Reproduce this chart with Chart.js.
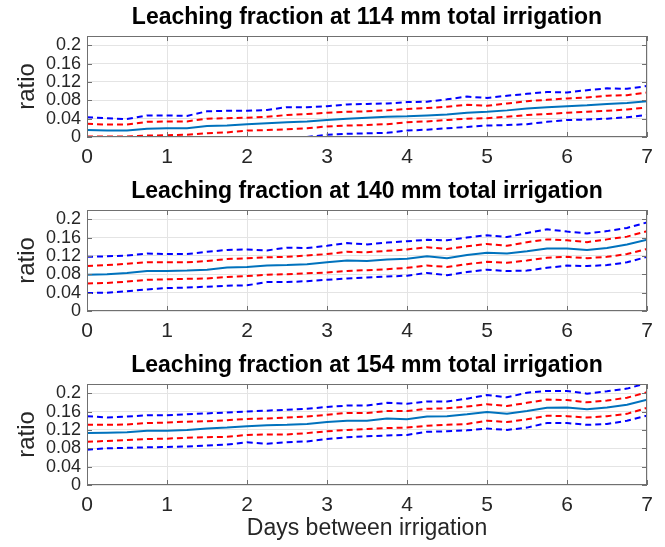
<!DOCTYPE html>
<html>
<head>
<meta charset="utf-8">
<script src="https://cdn.jsdelivr.net/npm/chart.js@4/dist/chart.umd.min.js"></script>
<style>
    html, body { margin: 0; padding: 0; background: #fff; }
    #wrap { position: relative; width: 665px; height: 547px; }
    canvas { position: absolute; left: 0; }
</style>
</head>
<body>
<div id="wrap">
    <canvas id="chart114" width="665" height="174" style="top:0px"></canvas>
    <canvas id="chart140" width="665" height="174" style="top:174px"></canvas>
    <canvas id="chart154" width="665" height="199" style="top:348px"></canvas>
</div>
<script>
// x values (days between irrigation) and tick labels
const days = [0, 0.25, 0.5, 0.75, 1, 1.25, 1.5, 1.75, 2, 2.25, 2.5, 2.75, 3, 3.25, 3.5, 3.75, 4, 4.25, 4.5, 4.75, 5, 5.25, 5.5, 5.75, 6, 6.25, 6.5, 6.75, 7];
const xTicks = [0, 1, 2, 3, 4, 5, 6, 7];
const yTicks = [0, 0.04, 0.08, 0.12, 0.16, 0.2];
const yTickLabels = ["0", "0.04", "0.08", "0.12", "0.16", "0.2"];

// 114 mm total irrigation
const mean114 = [0.015, 0.014, 0.014, 0.018, 0.019, 0.019, 0.024, 0.025, 0.028, 0.030, 0.032, 0.034, 0.037, 0.040, 0.042, 0.044, 0.045, 0.047, 0.049, 0.053, 0.055, 0.058, 0.062, 0.065, 0.067, 0.069, 0.072, 0.074, 0.078];
const innerHi114 = [0.029, 0.027, 0.027, 0.033, 0.034, 0.034, 0.040, 0.041, 0.042, 0.044, 0.048, 0.050, 0.053, 0.055, 0.056, 0.058, 0.061, 0.063, 0.066, 0.070, 0.068, 0.073, 0.078, 0.081, 0.084, 0.086, 0.090, 0.091, 0.097];
const innerLo114 = [0.001, 0.001, 0.001, 0.003, 0.004, 0.005, 0.008, 0.010, 0.014, 0.015, 0.017, 0.019, 0.023, 0.025, 0.026, 0.028, 0.032, 0.034, 0.037, 0.040, 0.041, 0.044, 0.048, 0.050, 0.053, 0.055, 0.057, 0.060, 0.064];
const outerHi114 = [0.043, 0.041, 0.039, 0.047, 0.047, 0.046, 0.056, 0.057, 0.057, 0.059, 0.065, 0.065, 0.067, 0.071, 0.072, 0.073, 0.076, 0.077, 0.082, 0.088, 0.085, 0.090, 0.094, 0.098, 0.097, 0.102, 0.106, 0.105, 0.111];
const outerLo114 = [-0.016, -0.015, -0.014, -0.012, -0.010, -0.009, -0.007, -0.005, -0.004, -0.002, 0.000, 0.000, 0.005, 0.007, 0.008, 0.009, 0.014, 0.016, 0.019, 0.022, 0.025, 0.026, 0.028, 0.033, 0.037, 0.038, 0.040, 0.043, 0.048];

// 140 mm total irrigation
const mean140 = [0.079, 0.080, 0.083, 0.087, 0.087, 0.088, 0.090, 0.095, 0.096, 0.099, 0.100, 0.102, 0.106, 0.110, 0.109, 0.112, 0.114, 0.119, 0.115, 0.122, 0.127, 0.125, 0.130, 0.136, 0.136, 0.133, 0.137, 0.145, 0.155];
const innerHi140 = [0.098, 0.100, 0.103, 0.106, 0.106, 0.106, 0.109, 0.113, 0.115, 0.117, 0.118, 0.121, 0.124, 0.129, 0.128, 0.131, 0.134, 0.139, 0.135, 0.141, 0.146, 0.142, 0.150, 0.156, 0.154, 0.150, 0.156, 0.162, 0.174];
const innerLo140 = [0.060, 0.061, 0.064, 0.068, 0.069, 0.070, 0.071, 0.074, 0.076, 0.079, 0.080, 0.082, 0.084, 0.087, 0.089, 0.091, 0.094, 0.099, 0.096, 0.102, 0.107, 0.105, 0.110, 0.116, 0.118, 0.115, 0.118, 0.124, 0.135];
const outerHi140 = [0.118, 0.119, 0.121, 0.125, 0.124, 0.124, 0.129, 0.133, 0.134, 0.132, 0.138, 0.137, 0.142, 0.148, 0.145, 0.149, 0.152, 0.155, 0.154, 0.160, 0.165, 0.161, 0.170, 0.178, 0.173, 0.169, 0.174, 0.181, 0.193];
const outerLo140 = [0.039, 0.040, 0.043, 0.047, 0.050, 0.051, 0.053, 0.055, 0.056, 0.063, 0.063, 0.065, 0.068, 0.071, 0.073, 0.075, 0.077, 0.083, 0.078, 0.085, 0.090, 0.087, 0.088, 0.094, 0.099, 0.098, 0.100, 0.106, 0.118];

// 154 mm total irrigation
const mean154 = [0.113, 0.114, 0.115, 0.118, 0.118, 0.120, 0.123, 0.125, 0.128, 0.130, 0.131, 0.133, 0.137, 0.140, 0.140, 0.145, 0.143, 0.149, 0.150, 0.154, 0.159, 0.155, 0.161, 0.168, 0.169, 0.165, 0.169, 0.175, 0.186];
const innerHi154 = [0.131, 0.131, 0.132, 0.135, 0.136, 0.138, 0.139, 0.141, 0.144, 0.145, 0.147, 0.149, 0.153, 0.157, 0.157, 0.161, 0.161, 0.166, 0.167, 0.171, 0.176, 0.172, 0.179, 0.186, 0.185, 0.180, 0.184, 0.190, 0.202];
const innerLo154 = [0.094, 0.096, 0.098, 0.100, 0.101, 0.103, 0.104, 0.105, 0.109, 0.110, 0.110, 0.113, 0.117, 0.120, 0.122, 0.124, 0.125, 0.129, 0.131, 0.133, 0.140, 0.137, 0.143, 0.151, 0.150, 0.147, 0.150, 0.155, 0.168];
const outerHi154 = [0.150, 0.147, 0.149, 0.152, 0.152, 0.154, 0.156, 0.158, 0.160, 0.162, 0.164, 0.166, 0.170, 0.173, 0.173, 0.179, 0.177, 0.182, 0.182, 0.188, 0.196, 0.191, 0.201, 0.205, 0.205, 0.199, 0.204, 0.210, 0.222];
const outerLo154 = [0.077, 0.080, 0.081, 0.082, 0.083, 0.084, 0.086, 0.088, 0.093, 0.090, 0.093, 0.095, 0.100, 0.104, 0.106, 0.108, 0.109, 0.116, 0.117, 0.119, 0.123, 0.120, 0.125, 0.135, 0.135, 0.131, 0.133, 0.140, 0.151];

const FONT = "'Liberation Sans', Arial, sans-serif";
const TEXT = "#262626";

const toPoints = (values) => values.map((v, i) => ({ x: days[i], y: v }));

const line = (values, color, dashed) => ({
    data: toPoints(values),
    borderColor: color,
    borderWidth: 2,
    borderDash: dashed ? [6, 4] : [],
    pointRadius: 0,
    tension: 0,
    clip: 0
});

// box round the plot area with inward tick marks, like matlab axes
const boxPlugin = {
    id: "box",
    afterDatasetsDraw(chart) {
        const { ctx, chartArea: a, scales } = chart;
        ctx.save();
        ctx.strokeStyle = "#707070";
        ctx.lineWidth = 1;
        ctx.strokeRect(a.left + 0.5, a.top + 0.5, a.right - a.left - 1, a.bottom - a.top - 1);
        ctx.beginPath();
        scales.x.ticks.forEach(t => {
            const px = Math.round(scales.x.getPixelForValue(t.value)) + 0.5;
            ctx.moveTo(px, a.bottom); ctx.lineTo(px, a.bottom - 5);
            ctx.moveTo(px, a.top); ctx.lineTo(px, a.top + 5);
        });
        scales.y.ticks.forEach(t => {
            const py = Math.round(scales.y.getPixelForValue(t.value)) + 0.5;
            ctx.moveTo(a.left, py); ctx.lineTo(a.left + 5, py);
            ctx.moveTo(a.right, py); ctx.lineTo(a.right - 5, py);
        });
        ctx.stroke();
        ctx.restore();
    }
};

// title centred over the plot area (not the whole canvas)
const panelTitle = {
    id: "panelTitle",
    afterDraw(chart, args, opts) {
        const { ctx, chartArea: a } = chart;
        ctx.save();
        ctx.font = "bold 23px " + FONT;
        ctx.fillStyle = "#000";
        ctx.textAlign = "center";
        ctx.textBaseline = "middle";
        ctx.fillText(opts.text, (a.left + a.right) / 2, 18);
        ctx.restore();
    }
};

const makeChart = (id, title, mean, innerHi, innerLo, outerHi, outerLo, showXTitle) => {
    const canvas = document.getElementById(id);
    const bottomGap = canvas.height - 137;
    return new Chart(canvas, {
        type: "line",
        data: {
            datasets: [
                line(outerHi, "#0000ff", true),
                line(innerHi, "#ff0000", true),
                line(mean, "#0072bd", false),
                line(innerLo, "#ff0000", true),
                line(outerLo, "#0000ff", true)
            ]
        },
        options: {
            responsive: false,
            animation: false,
            devicePixelRatio: 1,
            layout: { padding: { left: 0, right: 18, top: 36, bottom: 0 } },
            plugins: {
                legend: { display: false },
                tooltip: { enabled: false },
                title: { display: false },
                panelTitle: { text: title }
            },
            scales: {
                x: {
                    type: "linear",
                    min: 0,
                    max: 7,
                    afterBuildTicks: (scale) => { scale.ticks = xTicks.map(v => ({ value: v })); },
                    afterFit: (scale) => { scale.height = bottomGap; },
                    grid: { color: "#e4e4e4", drawTicks: false },
                    border: { display: false },
                    ticks: {
                        color: TEXT,
                        padding: 8,
                        maxRotation: 0,
                        autoSkip: false,
                        font: { family: FONT, size: 21 },
                        callback: (v) => String(v)
                    },
                    title: {
                        display: showXTitle,
                        text: "Days between irrigation",
                        color: TEXT,
                        font: { family: FONT, size: 23 },
                        padding: { top: 0, bottom: 5 }
                    }
                },
                y: {
                    min: 0,
                    max: 0.22,
                    afterBuildTicks: (scale) => { scale.ticks = yTicks.map(v => ({ value: v })); },
                    afterFit: (scale) => { scale.width = 87; },
                    grid: { color: "#e4e4e4", drawTicks: false },
                    border: { display: false },
                    ticks: {
                        color: TEXT,
                        padding: 6,
                        autoSkip: false,
                        font: { family: FONT, size: 18 },
                        callback: (v) => yTickLabels[yTicks.indexOf(v)]
                    },
                    title: {
                        display: true,
                        text: "ratio",
                        color: TEXT,
                        font: { family: FONT, size: 24 },
                        padding: { top: 13, bottom: 0 }
                    }
                }
            }
        },
        plugins: [boxPlugin, panelTitle]
    });
};

makeChart("chart114", "Leaching fraction at 114 mm total irrigation", mean114, innerHi114, innerLo114, outerHi114, outerLo114, false);
makeChart("chart140", "Leaching fraction at 140 mm total irrigation", mean140, innerHi140, innerLo140, outerHi140, outerLo140, false);
makeChart("chart154", "Leaching fraction at 154 mm total irrigation", mean154, innerHi154, innerLo154, outerHi154, outerLo154, true);
</script>
</body>
</html>
